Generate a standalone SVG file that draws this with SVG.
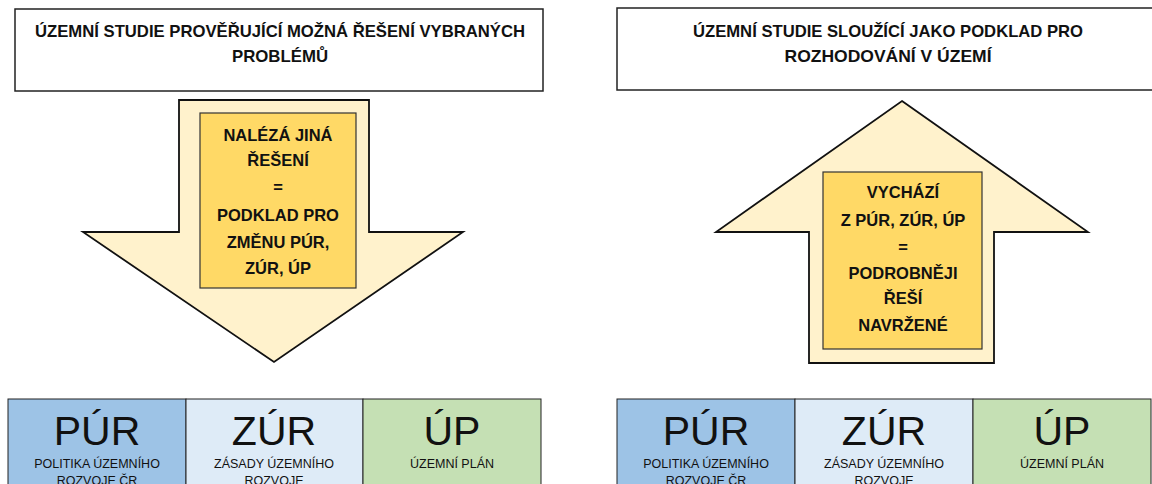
<svg xmlns="http://www.w3.org/2000/svg" width="1152" height="484" viewBox="0 0 1152 484">
<style>
.box{fill:#ffffff;stroke:#222;stroke-width:1.5}
.arrow{fill:#FFF2CC;stroke:#111;stroke-width:1.8;stroke-linejoin:miter}
.inner{fill:#FFD966;stroke:#333;stroke-width:1.2}
.t{font-family:"Liberation Sans",Arial,sans-serif;font-weight:bold;fill:#111;text-anchor:middle}
.title{font-size:17px}
.in{font-size:16.5px}
.big{font-family:"Liberation Sans",Arial,sans-serif;font-size:41px;fill:#111;text-anchor:middle}
.sm{font-family:"Liberation Sans",Arial,sans-serif;font-size:12.5px;fill:#111;text-anchor:middle}
.cell{stroke:#222;stroke-width:1}
.pur{fill:#9DC3E6}
.zur{fill:#DEEBF7}
.up{fill:#C5E0B4}
</style>
<rect width="1152" height="484" fill="#ffffff"/>
<g id="title-left">
<rect class="box" x="15" y="9" width="528" height="82"/>
<text class="t title" x="280" y="37" textLength="490" lengthAdjust="spacingAndGlyphs">ÚZEMNÍ STUDIE PROVĚŘUJÍCÍ MOŽNÁ ŘEŠENÍ VYBRANÝCH</text>
<text class="t title" x="280" y="62" textLength="96" lengthAdjust="spacingAndGlyphs">PROBLÉMŮ</text>
</g>
<g id="title-right">
<rect class="box" x="617" y="8" width="545" height="82"/>
<text class="t title" x="888" y="37" textLength="390" lengthAdjust="spacingAndGlyphs">ÚZEMNÍ STUDIE SLOUŽÍCÍ JAKO PODKLAD PRO</text>
<text class="t title" x="888" y="62" textLength="207" lengthAdjust="spacingAndGlyphs">ROZHODOVÁNÍ V ÚZEMÍ</text>
</g>
<g id="connectors">
<g id="arrow-down">
<path class="arrow" d="M179,100 L369,100 L369,232 L463,232 L274,362 L83,232 L179,232 Z"/>
</g>
<g id="arrow-up">
<path class="arrow" d="M902,101 L1088,232 L994,232 L994,363 L809,363 L809,232 L716,232 Z"/>
</g>
</g>
<g id="node-down">
<rect class="inner" x="200" y="113" width="156" height="175"/>
<text class="t in" x="278" y="141">NALÉZÁ JINÁ</text>
<text class="t in" x="278" y="166">ŘEŠENÍ</text>
<text class="t in" x="278" y="193">=</text>
<text class="t in" x="278" y="221">PODKLAD PRO</text>
<text class="t in" x="278" y="248">ZMĚNU PÚR,</text>
<text class="t in" x="278" y="274">ZÚR, ÚP</text>
</g>
<g id="node-up">
<rect class="inner" x="823" y="172" width="159" height="177"/>
<text class="t in" x="903" y="198">VYCHÁZÍ</text>
<text class="t in" x="903" y="226">Z PÚR, ZÚR, ÚP</text>
<text class="t in" x="903" y="253">=</text>
<text class="t in" x="903" y="279">PODROBNĚJI</text>
<text class="t in" x="903" y="304">ŘEŠÍ</text>
<text class="t in" x="903" y="331">NAVRŽENÉ</text>
</g>
<g id="table-left">
<rect class="cell pur" x="8" y="399" width="178" height="95"/>
<rect class="cell zur" x="186" y="399" width="177" height="95"/>
<rect class="cell up" x="363" y="399" width="178" height="95"/>
<text class="big" x="97" y="445">PÚR</text>
<text class="sm" x="97" y="468">POLITIKA ÚZEMNÍHO</text>
<text class="sm" x="97" y="485">ROZVOJE ČR</text>
<text class="big" x="274" y="445">ZÚR</text>
<text class="sm" x="274" y="468">ZÁSADY ÚZEMNÍHO</text>
<text class="sm" x="274" y="485">ROZVOJE</text>
<text class="big" x="452" y="445">ÚP</text>
<text class="sm" x="452" y="468">ÚZEMNÍ PLÁN</text>
</g>
<g id="table-right">
<rect class="cell pur" x="617" y="399" width="178" height="95"/>
<rect class="cell zur" x="795" y="399" width="178" height="95"/>
<rect class="cell up" x="973" y="399" width="178" height="95"/>
<text class="big" x="706" y="445">PÚR</text>
<text class="sm" x="706" y="468">POLITIKA ÚZEMNÍHO</text>
<text class="sm" x="706" y="485">ROZVOJE ČR</text>
<text class="big" x="884" y="445">ZÚR</text>
<text class="sm" x="884" y="468">ZÁSADY ÚZEMNÍHO</text>
<text class="sm" x="884" y="485">ROZVOJE</text>
<text class="big" x="1062" y="445">ÚP</text>
<text class="sm" x="1062" y="468">ÚZEMNÍ PLÁN</text>
</g>
</svg>
